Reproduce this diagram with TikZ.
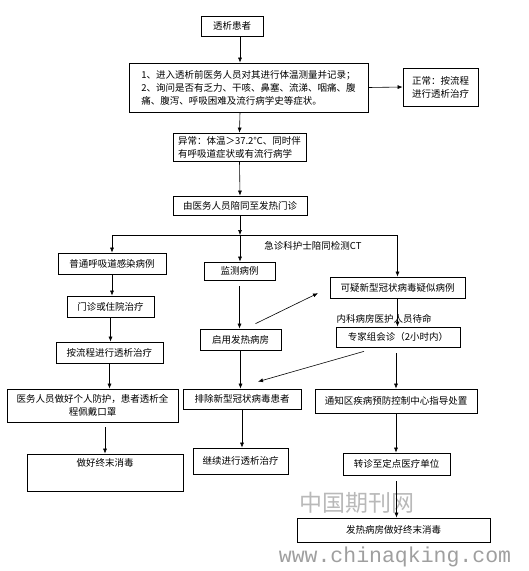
\documentclass[tikz,border=0pt]{standalone}
\usepackage{fontspec}
\setmainfont{Noto Sans CJK SC}
\newfontfamily\urlfont{Liberation Mono}
\usetikzlibrary{calc, positioning, arrows.meta}

\begin{document}
\begin{tikzpicture}[x=1pt, y=-1pt,
    box/.style={draw, rectangle, line width=0.7pt, inner sep=2pt, font=\fontsize{9.5}{13}\selectfont},
    arr/.style={-{Latex[length=5pt, width=4pt]}, line width=0.6pt},
    note/.style={font=\fontsize{9.5}{11}\selectfont}]
    \useasboundingbox (0,0) rectangle (529,571);

    % Watermark (behind everything)
    \node[text=gray!55, font=\fontsize{23}{23}\selectfont] (wmcn) at (357,503) {中国期刊网};
    \node[text=gray!75, font=\urlfont\fontsize{21.5}{21.5}\selectfont] (wmurl) at (395,557) {www.chinaqking.com};

    % Patient and screening on arrival
    \node[box, minimum width=62pt, minimum height=20pt] (patient) at (232,26) {透析患者};
    \node[box, minimum width=239pt, minimum height=49pt, align=left] (screen) at (248.5,87.5)
        {1、进入透析前医务人员对其进行体温测量并记录；\\2、询问是否有乏力、干咳、鼻塞、流涕、咽痛、腹\\痛、腹泻、呼吸困难及流行病学史等症状。};
    \node[box, minimum width=75pt, minimum height=38pt, align=left] (normal) at (440.5,87) {正常：按流程\\进行透析治疗};
    \node[box, minimum width=133pt, minimum height=28pt, align=left] (abnormal) at (239.5,147)
        {异常：体温＞37.2℃、同时伴\\有呼吸道症状或有流行病学};
    \node[box, minimum width=134pt, minimum height=19pt] (escort) at (240,205.5) {由医务人员陪同至发热门诊};
    \coordinate (split) at (240,235);

    % Three branches after the fever clinic
    \node[box, minimum width=108pt, minimum height=21pt] (common) at (112,263.5) {普通呼吸道感染病例};
    \node[box, minimum width=71pt, minimum height=18pt] (monitor) at (239.5,271) {监测病例};
    \node[box, minimum width=135pt, minimum height=21pt] (suspect) at (397.5,287.5) {可疑新型冠状病毒疑似病例};

    % Left column: ordinary infection
    \node[box, minimum width=87pt, minimum height=21pt] (clinic) at (110.5,306.5) {门诊或住院治疗};
    \node[box, minimum width=107pt, minimum height=21pt] (dialysis) at (109.5,352.5) {按流程进行透析治疗};
    \node[box, minimum width=171pt, minimum height=33pt, align=center] (protect) at (92.5,405.5)
        {医务人员做好个人防护，患者透析全\\程佩戴口罩};
    \node[box, minimum width=156pt, minimum height=37pt, text depth=20pt] (disinfect) at (105,472.5) {做好终末消毒};

    % Middle column: monitored case
    \node[box, minimum width=81pt, minimum height=21pt] (ward) at (240.5,339.5) {启用发热病房};
    \node[box, minimum width=118pt, minimum height=20pt] (exclude) at (242,399) {排除新型冠状病毒患者};
    \node[box, minimum width=95pt, minimum height=26pt] (continue) at (240.5,461) {继续进行透析治疗};

    % Right column: suspected case
    \node[box, minimum width=124pt, minimum height=20pt] (expert) at (398,337) {专家组会诊（2小时内）};
    \node[box, minimum width=162pt, minimum height=24pt] (notify) at (396,401) {通知区疾病预防控制中心指导处置};
    \node[box, minimum width=107pt, minimum height=22pt] (transfer) at (396.5,464) {转诊至定点医疗单位};
    \node[box, minimum width=193pt, minimum height=24pt] (fever) at (393.5,530) {发热病房做好终末消毒};

    % Arrow labels
    \node[note] (ctlabel) at (313,246) {急诊科护士陪同检测CT};
    \node[note] (standby) at (384,319) {内科病房医护人员待命};

    % Main spine
    \draw[arr] (patient.south -| escort.north) -- (screen.north -| escort.north);
    \draw[arr] (screen.east) -- (normal.west);
    \draw[arr] (screen.south -| escort.north) -- (abnormal.north);
    \draw[arr] (abnormal.south) -- (escort.north);
    \draw[arr] (escort.south) -- (split);
    \draw (common.north |- split) -- (suspect.north |- split);
    \draw[arr] (split) -| (common.north);
    \draw[arr] (split) -| (suspect.north);
    \draw[arr] (split) -- (split |- monitor.north);

    % Left column arrows
    \draw[arr] (common.south) -- (common.south |- clinic.north);
    \draw[arr] (clinic.south) -- (clinic.south |- dialysis.north);
    \draw[arr] (dialysis.south) -- (dialysis.south |- protect.north);
    \draw[arr, shorten <=5pt] (disinfect.north |- protect.south) -- (disinfect.north);

    % Middle column arrows
    \draw[arr, shorten <=6pt] (monitor.south) -- (monitor.south |- ward.north);
    \draw[arr] (ward.south) -- (ward.south |- exclude.north);
    \draw[arr] (exclude.south) -- (exclude.south |- continue.north);
    \draw[arr, shorten >=13pt] ([xshift=15pt, yshift=5pt] ward.north) -- (suspect.west);

    % Right column arrows
    \draw[arr] (suspect.south) -- (suspect.south |- expert.north);
    \draw[arr] ([xshift=-34pt, yshift=-4pt] expert.south) -- ([xshift=16pt, yshift=7pt] exclude.north);
    \draw[arr, shorten <=6pt] (expert.south -| notify.north) -- (notify.north);
    \draw[arr] (notify.south) -- (notify.south |- transfer.north);
    \draw[arr, shorten <=6pt] (transfer.south) -- (transfer.south |- fever.north);
\end{tikzpicture}
\end{document}
